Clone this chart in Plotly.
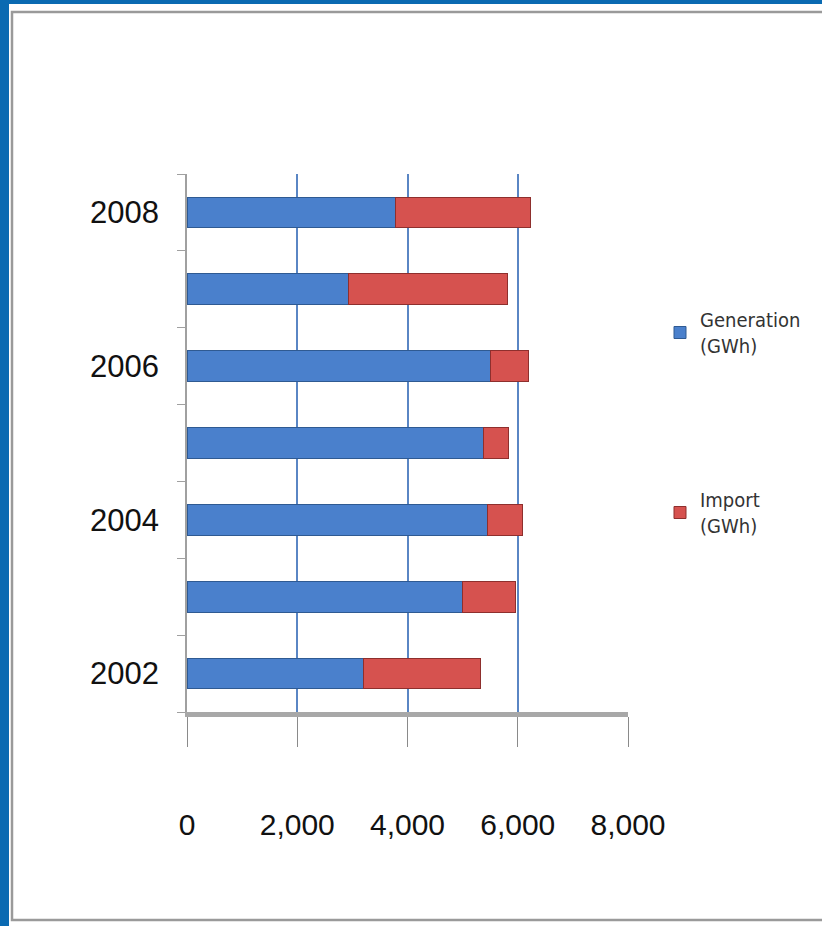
import plotly.graph_objects as go

# ---- data ----
years = ["2002", "2003", "2004", "2005", "2006", "2007", "2008"]
generation = [3200, 5000, 5450, 5380, 5510, 2930, 3780]
imports = [2130, 960, 640, 460, 690, 2890, 2460]
year_labels = ["2002", "", "2004", "", "2006", "", "2008"]
x_ticks = [0, 2000, 4000, 6000, 8000]

# ---- layout geometry (pixels) ----
W, H = 822, 926
L, R, T, B = 187, 194, 174, 214
PW, PH = W - L - R, H - T - B


def px2x(px):
    return (px - L) / PW


def px2y(py):
    return (H - B - py) / PH


num_font = "Liberation Sans Narrow, Arial Narrow, Liberation Sans, sans-serif"
leg_font = "DejaVu Sans Condensed, Liberation Sans Narrow, sans-serif"

fig = go.Figure()
fig.add_trace(go.Bar(
    y=years, x=generation, orientation="h", name="Generation<br>(GWh)",
    marker=dict(color="#4a80cc", line=dict(color="#2f5a92", width=1)),
    legend="legend",
))
fig.add_trace(go.Bar(
    y=years, x=imports, orientation="h", name="Import<br>(GWh)",
    marker=dict(color="#d6524f", line=dict(color="#8e2f2d", width=1)),
    legend="legend2",
))

shapes = [
    # gray inner panel border
    dict(type="rect", xref="paper", yref="paper",
         x0=px2x(12), x1=px2x(840), y0=px2y(920), y1=px2y(12),
         line=dict(color="#9a9a9a", width=2.5), fillcolor="rgba(0,0,0,0)", layer="below"),
    # blue slide stripes
    dict(type="rect", xref="paper", yref="paper",
         x0=px2x(0), x1=px2x(9), y0=px2y(H), y1=px2y(0),
         line=dict(width=0), fillcolor="#0a6ab2", layer="below"),
    dict(type="rect", xref="paper", yref="paper",
         x0=px2x(0), x1=px2x(W + 5), y0=px2y(4), y1=px2y(-2),
         line=dict(width=0), fillcolor="#0a6ab2", layer="above"),
]

fig.update_layout(
    width=W, height=H,
    margin=dict(l=L, r=R, t=T, b=B),
    paper_bgcolor="white", plot_bgcolor="white",
    barmode="stack", bargap=0.6,
    shapes=shapes,
    showlegend=True,
    legend=dict(x=px2x(660), y=px2y(300), xanchor="left", yanchor="top",
                itemwidth=30,
                bgcolor="rgba(0,0,0,0)", font=dict(family=leg_font, size=20, color="#333333")),
    legend2=dict(x=px2x(660), y=px2y(480), xanchor="left", yanchor="top",
                 itemwidth=30,
                 bgcolor="rgba(0,0,0,0)", font=dict(family=leg_font, size=20, color="#333333")),
    xaxis=dict(
        range=[0, 8000], tickvals=x_ticks, tickformat=",",
        showgrid=True, gridcolor="#5a86c4", gridwidth=1.5, zeroline=False,
        showline=True, linecolor="#a8a8a8", linewidth=5,
        ticks="outside", ticklen=30, tickcolor="#8a8a8a", tickwidth=1,
        ticklabelstandoff=52,
        tickfont=dict(family=num_font, size=30, color="#111111"),
    ),
    yaxis=dict(
        type="category", categoryorder="array", categoryarray=years,
        tickvals=years, ticktext=year_labels, tickson="boundaries",
        showgrid=False, zeroline=False,
        showline=True, linecolor="#a0a0a0", linewidth=1.5,
        ticks="outside", ticklen=8, tickcolor="#a0a0a0",
        ticklabelstandoff=20,
        tickfont=dict(family=num_font, size=31, color="#111111"),
    ),
)

fig.write_html(
    "out.html",
    config={"displayModeBar": False},
    post_script="document.body.style.margin='0px';document.body.style.overflow='hidden';",
)
